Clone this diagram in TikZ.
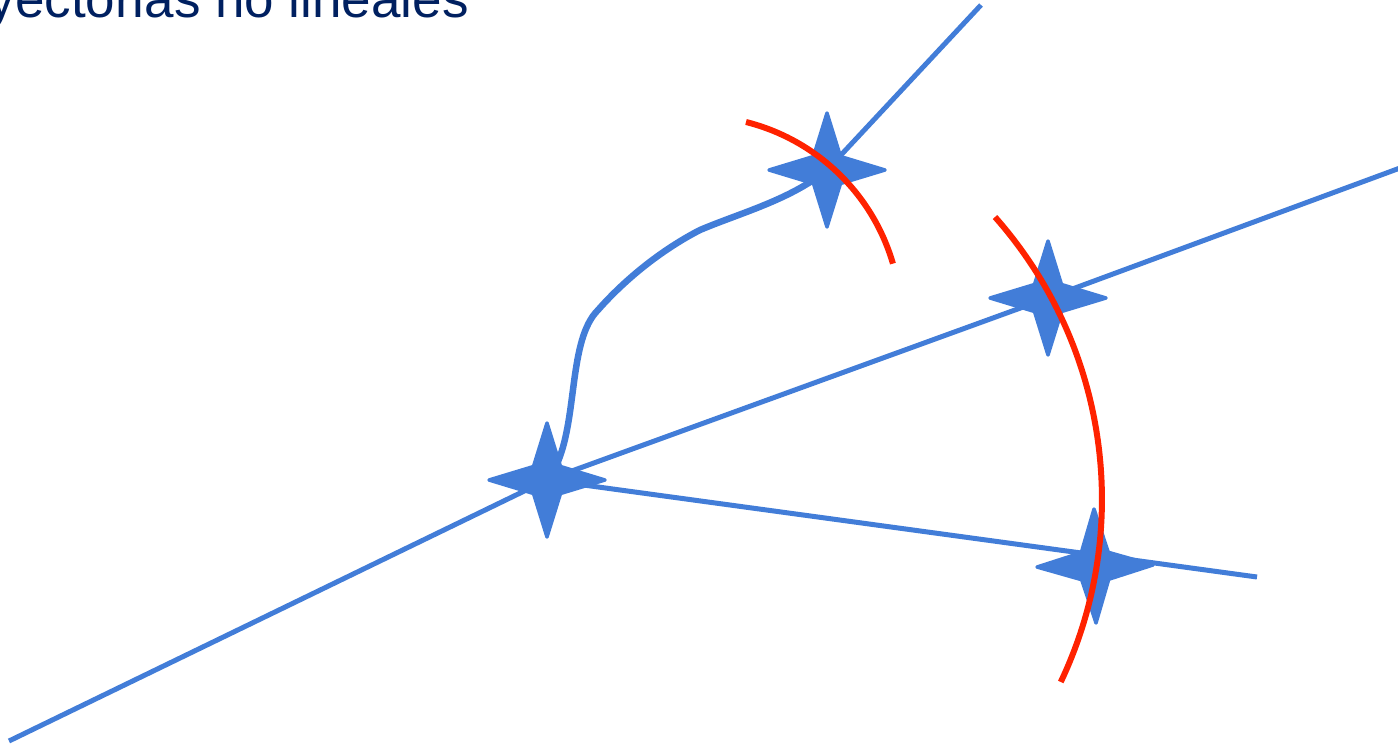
\documentclass[tikz,border=0pt]{standalone}
\usepackage{fontspec}
\setmainfont{Liberation Sans}
\definecolor{lblue}{RGB}{66,125,216}
\definecolor{lred}{RGB}{255,34,0}
\definecolor{navy}{RGB}{0,32,96}
\begin{document}
\begin{tikzpicture}[x=1pt,y=-1pt,
  conn/.style={draw=lblue, line width=5pt},
  curvy/.style={draw=lblue, line width=6.5pt, line cap=round},
  arcline/.style={draw=lred, line width=6pt},
  sparkfill/.style={fill=lblue, draw=lblue, line width=3.5pt, line join=round},
  pics/spark/.style={code={
    \path[sparkfill] (0,-57) -- (13.5,-13.5) -- (58,0) -- (13.5,13.5) -- (0,57) -- (-13.5,13.5) -- (-58,0) -- (-13.5,-13.5) -- cycle;
  }}]
\useasboundingbox (0,0) rectangle (1398,745);
\clip (0,0) rectangle (1398,745);

\coordinate (A) at (547,480);
\coordinate (B) at (827,170);
\coordinate (C) at (1048,298);
\coordinate (D) at (1095,566);
\coordinate (e1) at (9,741);
\coordinate (e2) at (1400,168);
\coordinate (e3) at (1257,577);
\coordinate (e4) at (981,5);

% straight lines
\draw[conn] (e1) -- (A);
\draw[conn] (A) -- (C) -- (e2);
\draw[conn] (A) -- (e3);
\draw[conn] (B) -- (e4);

% curved connector
\draw[curvy] (A) ++(9,-14) .. controls (578,420) and (568,340) .. (598,310)
  .. controls (628,276) and (665,248) .. (700,230)
  .. controls (740,213) and (790,200) .. (B);

% stars
\pic at (A) {spark};
\pic at (B) {spark};
\pic at (C) {spark};
\pic[rotate=1] at (D) {spark};

% red arcs
\draw[arcline] (746,122) arc[start angle=-75.9, end angle=-16.2, radius=205];
\draw[arcline] (995,217) arc[start angle=-41.5, end angle=25.4, radius=426];

% title
\node[anchor=base east, inner sep=0, text=navy, font=\fontsize{53}{60}\selectfont] (title) at (469,17) {yectorias no lineales};
\end{tikzpicture}
\end{document}
